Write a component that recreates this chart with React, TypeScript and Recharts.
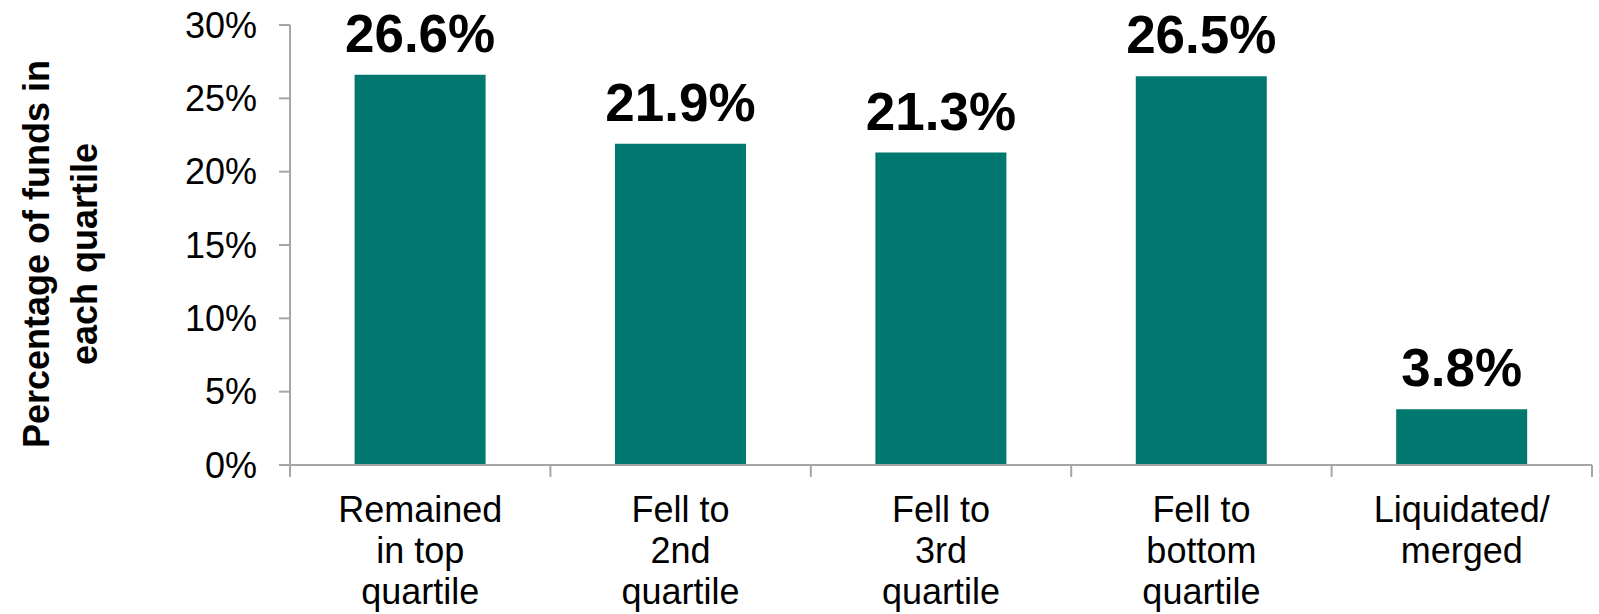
import { BarChart, Bar, XAxis, YAxis, LabelList } from 'recharts';

const categories = [
  'Remained\nin top\nquartile',
  'Fell to\n2nd\nquartile',
  'Fell to\n3rd\nquartile',
  'Fell to\nbottom\nquartile',
  'Liquidated/\nmerged',
];
const shares = [26.6, 21.9, 21.3, 26.5, 3.8];
const yTicks = [0, 5, 10, 15, 20, 25, 30];

const data = categories.map((name, i) => ({ name, value: shares[i] }));

const FONT = '"Liberation Sans", Arial, sans-serif';
const AXIS = '#A6A6A6';

// category label plus Excel-style tick marks on the band edges
const CategoryTick = (props: any) => {
  const { x, y, payload, index, visibleTicksCount } = props;
  const half = payload?.offset ?? 0;
  const lines = String(payload.value).split('\n');
  const isLast = index === visibleTicksCount - 1;
  return (
    <g>
      <line x1={x - half} x2={x - half} y1={y} y2={y + 12} stroke={AXIS} strokeWidth={2} />
      {isLast && <line x1={x + half} x2={x + half} y1={y} y2={y + 12} stroke={AXIS} strokeWidth={2} />}
      <text x={x} y={y} textAnchor="middle" fontFamily={FONT} fontSize={36} fill="#000">
        {lines.map((l, i) => (
          <tspan key={i} x={x} dy={i === 0 ? 57 : 41}>
            {l}
          </tspan>
        ))}
      </text>
    </g>
  );
};

const YTitle = () => (
  <text
    transform="translate(49, 254) rotate(-90)"
    textAnchor="middle"
    fontFamily={FONT}
    fontSize={36}
    fontWeight="bold"
    fill="#000"
  >
    <tspan x={0} dy={0}>Percentage of funds in</tspan>
    <tspan x={0} dy={48}>each quartile</tspan>
  </text>
);

const App = () => {
  return (
    <div style={{ position: 'absolute', left: 0, top: 0, width: 1599, height: 614, background: '#fff' }}>
      <BarChart
        width={1599}
        height={614}
        data={data}
        margin={{ top: 25, right: 7, left: 0, bottom: 0 }}
        barCategoryGap="24.8%"
      >
        <XAxis
          dataKey="name"
          height={149}
          stroke={AXIS}
          strokeWidth={2}
          tickLine={false}
          tickSize={0}
          tickMargin={0}
          tick={<CategoryTick />}
          interval={0}
        />
        <YAxis
          width={290}
          domain={[0, 30]}
          ticks={yTicks}
          interval={0}
          tickFormatter={(v: number) => `${v}%`}
          tickSize={11}
          tickMargin={22}
          stroke={AXIS}
          strokeWidth={2}
          tick={{ fill: '#000', fontSize: 36, fontFamily: FONT }}
          label={<YTitle />}
        />
        <Bar dataKey="value" fill="#00786F" isAnimationActive={false}>
          <LabelList
            dataKey="value"
            position="top"
            offset={23}
            formatter={(v: any) => `${Number(v).toFixed(1)}%`}
            style={{ fill: '#000', fontSize: 53, fontWeight: 'bold', fontFamily: FONT }}
          />
        </Bar>
      </BarChart>
    </div>
  );
};

export default App;
